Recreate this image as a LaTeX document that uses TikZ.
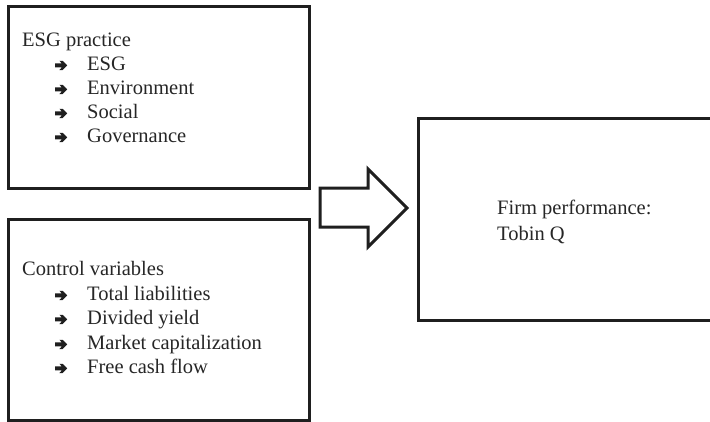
\documentclass[tikz,border=0pt]{standalone}
\usepackage{fontspec}
\setmainfont{Liberation Serif}
\begin{document}
\begin{tikzpicture}[x=1pt,y=-1pt,
  box/.style={draw=black!88,line width=3pt,rectangle,anchor=north west,inner sep=0pt},
  txt/.style={anchor=base west,inner sep=0pt,font=\fontsize{20.5}{24}\selectfont,text=black!85},
  bularrow/.pic={\fill[black!88] (0,-6.6) -- (6.8,-6.6) -- (4.4,-9.2) -- (7.6,-9.2) -- (12.2,-4.6) -- (7.6,0) -- (4.4,0) -- (6.8,-2.6) -- (0,-2.6) -- cycle;}]
\useasboundingbox (0,0) rectangle (710,421);
\clip (0,0) rectangle (710,421);
% boxes
\node[box,minimum width=301pt,minimum height=182pt] (esgbox) at (7,5) {};
\node[box,minimum width=301pt,minimum height=201pt] (ctrlbox) at (7,218) {};
\node[box,minimum width=300pt,minimum height=202pt] (firmbox) at (417,117) {};
% block arrow
\draw[draw=black!88,line width=3pt,line join=miter,fill=white]
  (320,188) -- (368,188) -- (368,169) -- (407,208) -- (368,247) -- (368,227) -- (320,227) -- cycle;
% ESG box text
\node[txt] (esgt) at (22,46) {ESG practice};
\foreach \y/\t [count=\i] in {70/ESG,94/Environment,118/Social,142/Governance}{
  \pic at (55,\y) {bularrow};
  \node[txt] (esgi\i) at (87,\y) {\t};
}
% Control box text
\node[txt] (ctrlt) at (22,275) {Control variables};
\foreach \y/\t [count=\i] in {300/Total liabilities,324/Divided yield,349/Market capitalization,373/Free cash flow}{
  \pic at (55,\y) {bularrow};
  \node[txt] (ctrli\i) at (87,\y) {\t};
}
% Firm box text
\node[txt] (firm1) at (497,214) {Firm performance:};
\node[txt] (firm2) at (497,240) {Tobin Q};
\end{tikzpicture}
\end{document}
